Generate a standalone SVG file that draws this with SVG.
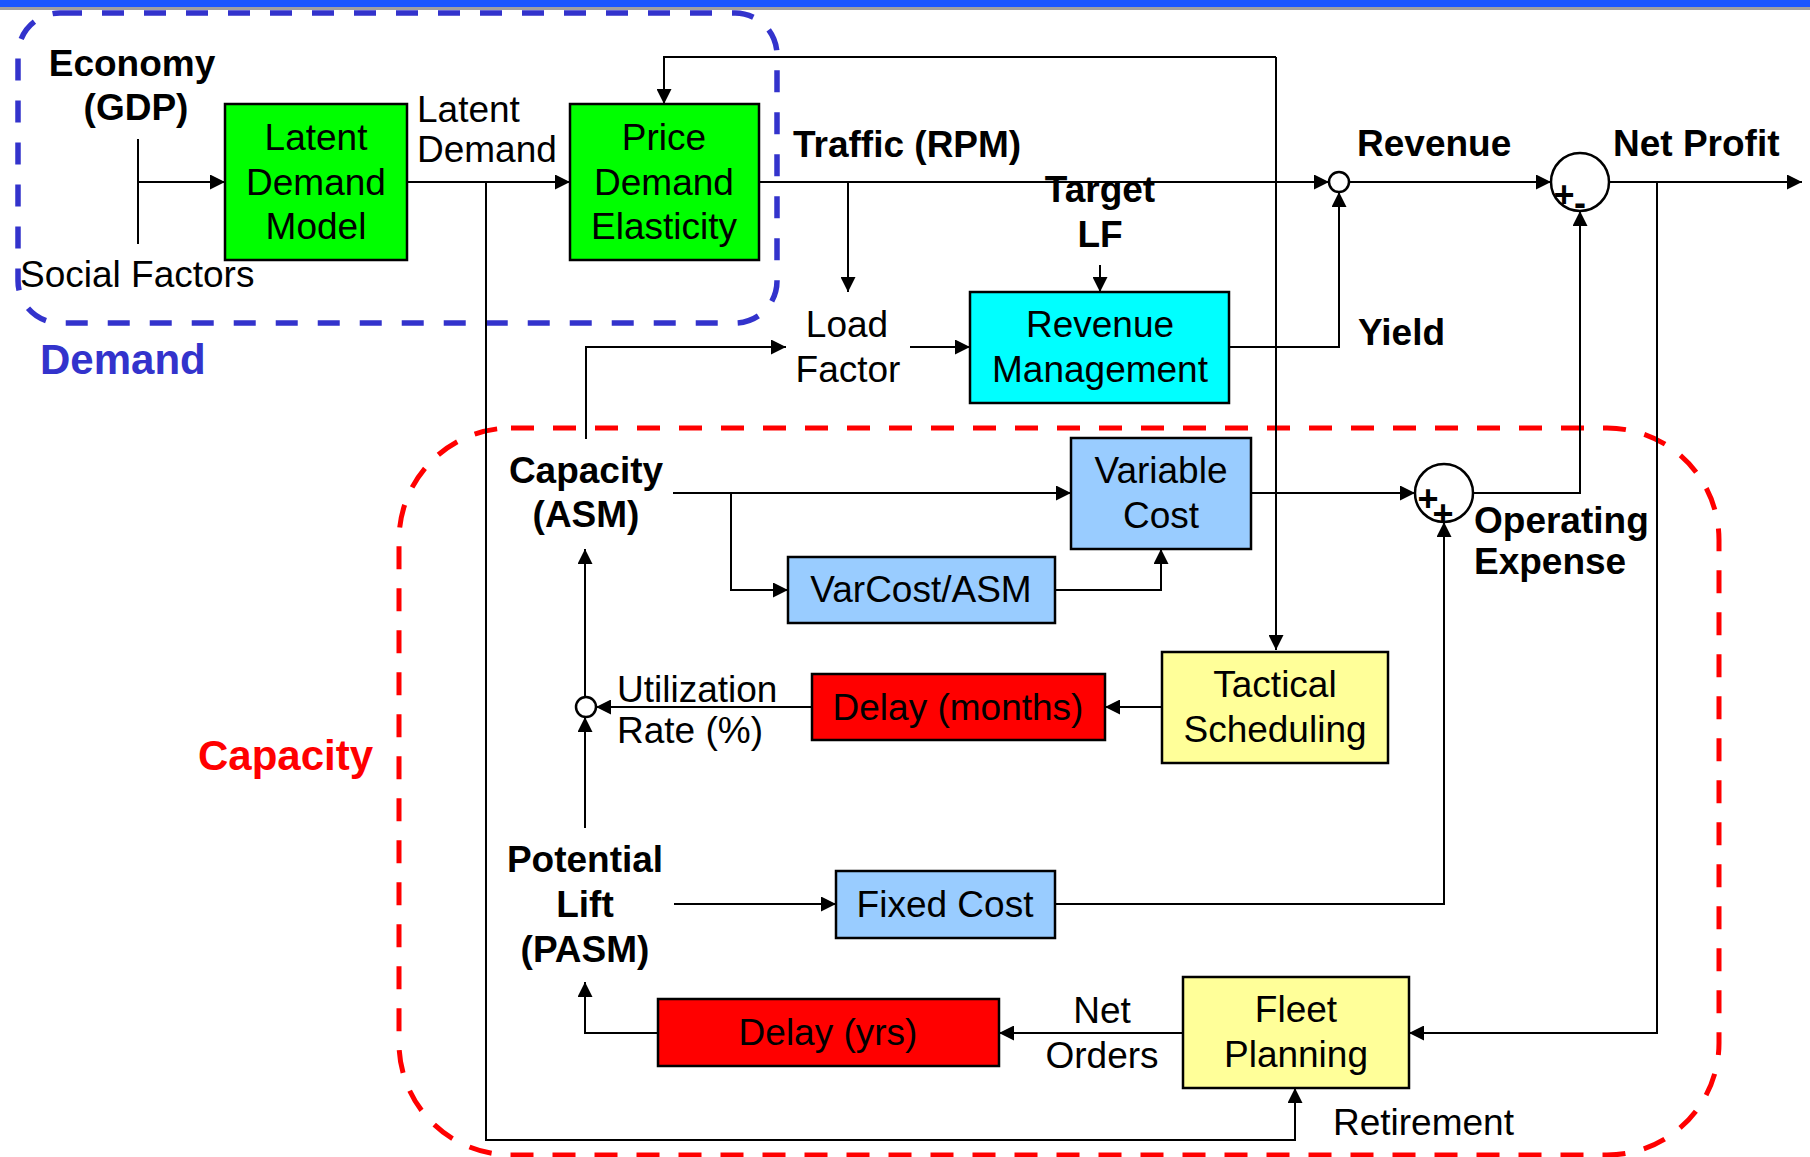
<svg xmlns="http://www.w3.org/2000/svg" width="1810" height="1157" viewBox="0 0 1810 1157">
<defs>
<marker id="arr" viewBox="0 0 10 10" refX="10" refY="5" markerWidth="15" markerHeight="15" markerUnits="userSpaceOnUse" orient="auto">
<path d="M0,0 L10,5 L0,10 z" fill="#000"/>
</marker>
<style>
text{font-family:"Liberation Sans",Arial,sans-serif;font-size:37px;fill:#000}
.b{font-weight:bold}
.m{text-anchor:middle}
.box{stroke:#000;stroke-width:2.5}
.green{fill:#00ff00}
.cyan{fill:#00ffff}
.lblue{fill:#99ccff}
.yellow{fill:#ffff99}
.red{fill:#ff0000}
.con path,.con line{fill:none;stroke:#000;stroke-width:2}
.arr{marker-end:url(#arr)}
.junc{fill:#fff;stroke:#000;stroke-width:2.5}
.sign{font-weight:bold;font-size:36px;text-anchor:middle}
</style>
</defs>
<rect x="0" y="0" width="1810" height="1157" fill="#fff"/>
<rect x="0" y="0" width="1810" height="7" fill="#1a56ff"/>
<rect x="0" y="7" width="1810" height="3" fill="#a0a0a0"/>

<g id="groups">
<rect id="demand-group" x="18" y="13" width="759" height="310" rx="42" ry="42" fill="none" stroke="#3333cc" stroke-width="5.5" stroke-dasharray="22 20"/>
<rect id="capacity-group" x="399" y="428" width="1320" height="727" rx="112" ry="112" fill="none" stroke="#ff0000" stroke-width="5" stroke-dasharray="23 19"/>
<text x="40" y="374" class="b" style="font-size:42px;fill:#3333cc">Demand</text>
<text x="198" y="770" class="b" style="font-size:42px;fill:#ff0000">Capacity</text>
</g>

<g id="connectors" class="con">
<line x1="138" y1="139" x2="138" y2="244"/>
<line class="arr" x1="138" y1="182" x2="225" y2="182"/>
<line class="arr" x1="407" y1="182" x2="570" y2="182"/>
<path class="arr" d="M486,182 V1140 H1295 V1088"/>
<path class="arr" d="M1276,57 H664 V104"/>
<path class="arr" d="M1276,57 V650"/>
<line class="arr" x1="759" y1="182" x2="1329" y2="182"/>
<line class="arr" x1="848" y1="182" x2="848" y2="292"/>
<line class="arr" x1="1100" y1="265" x2="1100" y2="292"/>
<line class="arr" x1="910" y1="347" x2="970" y2="347"/>
<path class="arr" d="M586,439 V347 H786"/>
<path class="arr" d="M1229,347 H1339 V192"/>
<line class="arr" x1="1349" y1="182" x2="1551" y2="182"/>
<line class="arr" x1="1609" y1="182" x2="1802" y2="182"/>
<path class="arr" d="M1657,182 V1033 H1409"/>
<path class="arr" d="M1473,493 H1580 V211"/>
<line class="arr" x1="673" y1="493" x2="1071" y2="493"/>
<path class="arr" d="M731,493 V590 H788"/>
<path class="arr" d="M1055,590 H1161 V549"/>
<line class="arr" x1="1251" y1="493" x2="1415" y2="493"/>
<path class="arr" d="M1055,904 H1444 V522"/>
<line class="arr" x1="1162" y1="707" x2="1105" y2="707"/>
<line class="arr" x1="812" y1="707" x2="596" y2="707"/>
<line class="arr" x1="585" y1="697" x2="585" y2="549"/>
<line class="arr" x1="585" y1="828" x2="585" y2="717"/>
<line class="arr" x1="674" y1="904" x2="836" y2="904"/>
<line class="arr" x1="1183" y1="1033" x2="999" y2="1033"/>
<path class="arr" d="M658,1033 H585 V982"/>
</g>

<g id="economy">
<text x="132" y="76" class="b m">Economy</text>
<text x="136" y="120" class="b m">(GDP)</text>
</g>
<g id="social-factors"><text x="20" y="287">Social Factors</text></g>
<g id="latent-demand-label">
<text x="417" y="122">Latent</text>
<text x="417" y="162">Demand</text>
</g>

<g id="latent-demand-model">
<rect class="box green" x="225" y="104" width="182" height="156"/>
<text x="316" y="150" class="m">Latent</text>
<text x="316" y="195" class="m">Demand</text>
<text x="316" y="239" class="m">Model</text>
</g>
<g id="price-demand-elasticity">
<rect class="box green" x="570" y="104" width="189" height="156"/>
<text x="664" y="150" class="m">Price</text>
<text x="664" y="195" class="m">Demand</text>
<text x="664" y="239" class="m">Elasticity</text>
</g>

<g id="traffic"><text x="793" y="157" class="b">Traffic (RPM)</text></g>
<g id="target-lf">
<text x="1100" y="202" class="b m">Target</text>
<text x="1100" y="247" class="b m">LF</text>
</g>
<g id="load-factor">
<text x="847" y="337" class="m">Load</text>
<text x="848" y="382" class="m">Factor</text>
</g>
<g id="revenue-management">
<rect class="box cyan" x="970" y="292" width="259" height="111"/>
<text x="1100" y="337" class="m">Revenue</text>
<text x="1100" y="382" class="m">Management</text>
</g>
<g id="yield"><text x="1358" y="345" class="b">Yield</text></g>

<g id="revenue-junction"><circle class="junc" cx="1339" cy="182" r="10"/></g>
<g id="revenue"><text x="1357" y="156" class="b">Revenue</text></g>
<g id="net-profit-sum">
<circle class="junc" cx="1580" cy="182" r="29"/>
<text x="1564" y="207" class="sign">+</text>
<text x="1580" y="215" class="sign">-</text>
</g>
<g id="net-profit"><text x="1613" y="156" class="b">Net Profit</text></g>

<g id="opex-sum">
<circle class="junc" cx="1444" cy="493" r="29"/>
<text x="1428" y="511" class="sign">+</text>
<text x="1443" y="526" class="sign">+</text>
</g>
<g id="operating-expense">
<text x="1474" y="533" class="b">Operating</text>
<text x="1474" y="574" class="b">Expense</text>
</g>

<g id="capacity-asm">
<text x="586" y="483" class="b m">Capacity</text>
<text x="586" y="527" class="b m">(ASM)</text>
</g>
<g id="variable-cost">
<rect class="box lblue" x="1071" y="438" width="180" height="111"/>
<text x="1161" y="483" class="m">Variable</text>
<text x="1161" y="528" class="m">Cost</text>
</g>
<g id="varcost-asm">
<rect class="box lblue" x="788" y="557" width="267" height="66"/>
<text x="921" y="602" class="m">VarCost/ASM</text>
</g>
<g id="tactical-scheduling">
<rect class="box yellow" x="1162" y="652" width="226" height="111"/>
<text x="1275" y="697" class="m">Tactical</text>
<text x="1275" y="742" class="m">Scheduling</text>
</g>
<g id="delay-months">
<rect class="box red" x="812" y="674" width="293" height="66"/>
<text x="958" y="720" class="m">Delay (months)</text>
</g>
<g id="utilization-junction"><circle class="junc" cx="586" cy="707" r="10"/></g>
<g id="utilization-rate">
<text x="617" y="702">Utilization</text>
<text x="617" y="743">Rate (%)</text>
</g>
<g id="potential-lift">
<text x="585" y="872" class="b m">Potential</text>
<text x="585" y="917" class="b m">Lift</text>
<text x="585" y="962" class="b m">(PASM)</text>
</g>
<g id="fixed-cost">
<rect class="box lblue" x="836" y="871" width="219" height="67"/>
<text x="945" y="917" class="m">Fixed Cost</text>
</g>
<g id="delay-yrs">
<rect class="box red" x="658" y="999" width="341" height="67"/>
<text x="828" y="1045" class="m">Delay (yrs)</text>
</g>
<g id="net-orders">
<text x="1102" y="1023" class="m">Net</text>
<text x="1102" y="1068" class="m">Orders</text>
</g>
<g id="fleet-planning">
<rect class="box yellow" x="1183" y="977" width="226" height="111"/>
<text x="1296" y="1022" class="m">Fleet</text>
<text x="1296" y="1067" class="m">Planning</text>
</g>
<g id="retirement"><text x="1333" y="1135">Retirement</text></g>
</svg>
